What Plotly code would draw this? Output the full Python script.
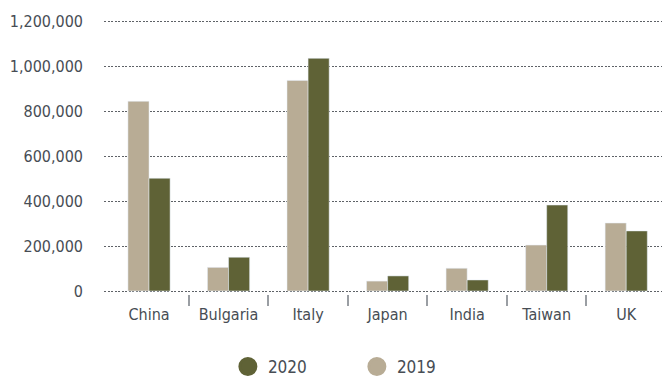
import plotly.graph_objects as go

categories = ["China", "Bulgaria", "Italy", "Japan", "India", "Taiwan", "UK"]
values_2019 = [843000, 105000, 936000, 44000, 101000, 204000, 302000]
values_2020 = [501000, 150000, 1034000, 67000, 49000, 382000, 267000]
y_ticks = [0, 200000, 400000, 600000, 800000, 1000000, 1200000]
y_tick_labels = ["0", "200,000", "400,000", "600,000", "800,000", "1,000,000", "1,200,000"]

C2019 = "#b8ac95"
C2020 = "#5f6236"
TXT = "#474d54"
FONT = "DejaVu Sans Condensed, sans-serif"

xs = list(range(len(categories)))

fig = go.Figure()
fig.add_trace(go.Bar(x=xs, y=values_2019, marker_color=C2019, name="2019", showlegend=False))
fig.add_trace(go.Bar(x=xs, y=values_2020, marker_color=C2020, name="2020", showlegend=False))
fig.add_trace(go.Scatter(x=[None], y=[None], mode="markers", name="2020",
                         marker=dict(symbol="circle", size=16, color=C2020, line=dict(color=C2020, width=3))))
fig.add_trace(go.Scatter(x=[None], y=[None], mode="markers", name="2019",
                         marker=dict(symbol="circle", size=16, color=C2019, line=dict(color=C2019, width=3))))

fig.update_layout(
    width=662, height=378,
    margin=dict(l=104, r=0, t=18, b=84, autoexpand=False),
    paper_bgcolor="white", plot_bgcolor="white",
    barmode="group", bargap=0.47, bargroupgap=0,
    font=dict(family=FONT, size=16, color=TXT),
    showlegend=True,
    legend=dict(orientation="h", x=0.222, xanchor="left", y=-0.264, yanchor="middle",
                entrywidth=84, entrywidthmode="pixels",
                font=dict(family=FONT, size=17, color=TXT), bgcolor="rgba(0,0,0,0)"),
    xaxis=dict(range=[-0.566, 6.45], tickmode="array", tickvals=xs, ticktext=categories,
               ticks="", showgrid=False, zeroline=False, showline=False,
               tickfont=dict(family=FONT, size=16, color=TXT),
               minor=dict(tickmode="array", tickvals=[i + 0.5 for i in xs[:-1]],
                          ticks="outside", ticklen=11, tickwidth=1.5, tickcolor="#9a9ea3"),
               ticklabelstandoff=9),
    yaxis=dict(range=[-13333, 1213333], tickmode="array", tickvals=y_ticks, ticktext=y_tick_labels,
               showgrid=True, gridcolor="#5e6267", gridwidth=1, griddash="2px,1.5px",
               zeroline=False, showline=False, ticks="",
               tickfont=dict(family=FONT, size=16, color=TXT),
               ticklabelstandoff=20),
)

fig.write_html("out.html")
